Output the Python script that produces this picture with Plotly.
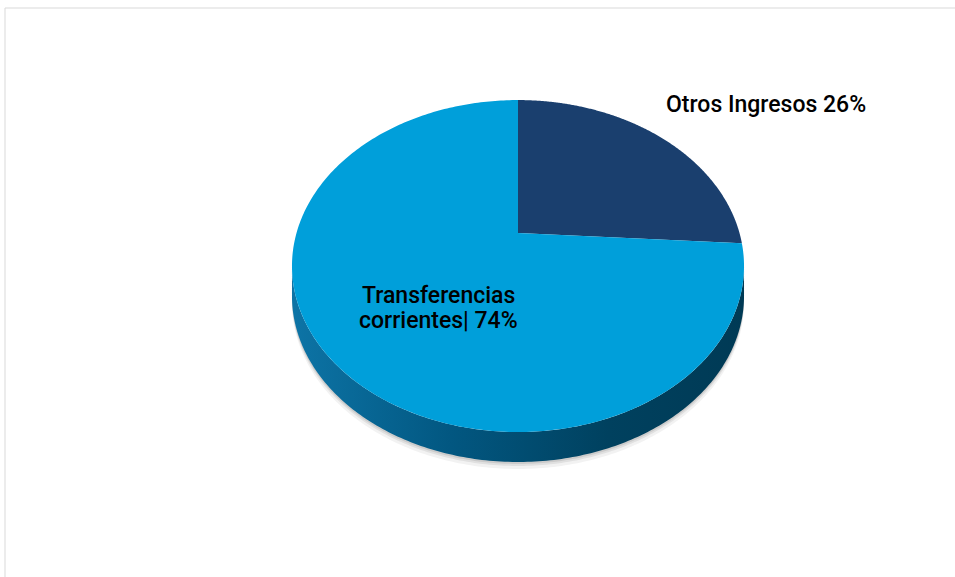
import numpy as np
import plotly.graph_objects as go

# ---- data ----
labels = ["Otros Ingresos", "Transferencias corrientes"]
values = [26, 74]
label_lines = [["Otros Ingresos 26%"], ["Transferencias", "corrientes| 74%"]]
colors = ["#1a3f6e", "#009fda"]

# ---- 3D pie geometry (perspective projection of a tilted disc) ----
W, H = 955, 577
X0, Y0 = 518, 233          # projected centre of the disc
K = 0.199                  # perspective strength
A, B = 221.5, 159.4        # horizontal / vertical radii factors
DEPTH = 30                 # thickness of the disc


def proj(phi, dy=0.0):
    u = np.sin(phi)
    v = -np.cos(phi)
    w = 1 - K * v
    return X0 + A * u / w, Y0 + B * v / w + dy


fig = go.Figure()

total = float(sum(values))
fracs = [v / total for v in values]
starts = np.cumsum([0] + fracs[:-1])

# side wall (only front part visible)
phi_r = np.arccos(-K)
phi_l = 2 * np.pi - phi_r
t = np.linspace(phi_r, phi_l, 200)
xt, yt = proj(t)
xb, yb = proj(t[::-1], DEPTH)

# soft shadow
for off, alpha in [(7, 0.05), (4, 0.07), (2, 0.09)]:
    xs, ys = proj(t[::-1], DEPTH + off)
    fig.add_trace(go.Scatter(
        x=np.concatenate([xt, xs]), y=np.concatenate([yt + off, ys]),
        fill="toself", mode="none", fillcolor=f"rgba(0,0,0,{alpha})",
        hoverinfo="skip", showlegend=False))

fig.add_trace(go.Scatter(
    x=np.concatenate([xt, xb]), y=np.concatenate([yt, yb]),
    fill="toself", mode="none",
    fillgradient=dict(type="horizontal",
                      colorscale=[[0, "#0d74a6"], [0.35, "#025781"],
                                  [0.7, "#00415f"], [1, "#003a55"]]),
    hoverinfo="skip", showlegend=False))

# top faces of slices
for lab, f, s, c in zip(labels, fracs, starts, colors):
    ang = np.linspace(2 * np.pi * s, 2 * np.pi * (s + f), 300)
    xa, ya = proj(ang)
    fig.add_trace(go.Scatter(
        x=np.concatenate([[X0], xa, [X0]]),
        y=np.concatenate([[Y0], ya, [Y0]]),
        fill="toself", mode="none", fillcolor=c, name=lab,
        hoverinfo="name", showlegend=False))

# labels
label_pos = [(766, 104), (438, 308)]
LINE_GAP = 25
for lines, (lx, ly) in zip(label_lines, label_pos):
    n = len(lines)
    for i, txt in enumerate(lines):
        fig.add_annotation(x=lx, y=ly + (i - (n - 1) / 2) * LINE_GAP,
                           text=txt, showarrow=False,
                           font=dict(family="Roboto", size=23, color="black",
                                     weight=500),
                           xanchor="center", yanchor="middle")

# chart border
fig.add_shape(type="rect", x0=5, y0=8, x1=W + 10, y1=H + 10,
              line=dict(color="#d9d9d9", width=1), layer="below")

fig.update_layout(
    width=W, height=H, margin=dict(l=0, r=0, t=0, b=0),
    paper_bgcolor="white", plot_bgcolor="white",
    xaxis=dict(range=[0, W], visible=False, fixedrange=True),
    yaxis=dict(range=[H, 0], visible=False, fixedrange=True),
)

fig.write_html("out.html",
               config={"displayModeBar": False},
               post_script="document.body.style.margin='0';"
                           "document.body.style.overflow='hidden';")
